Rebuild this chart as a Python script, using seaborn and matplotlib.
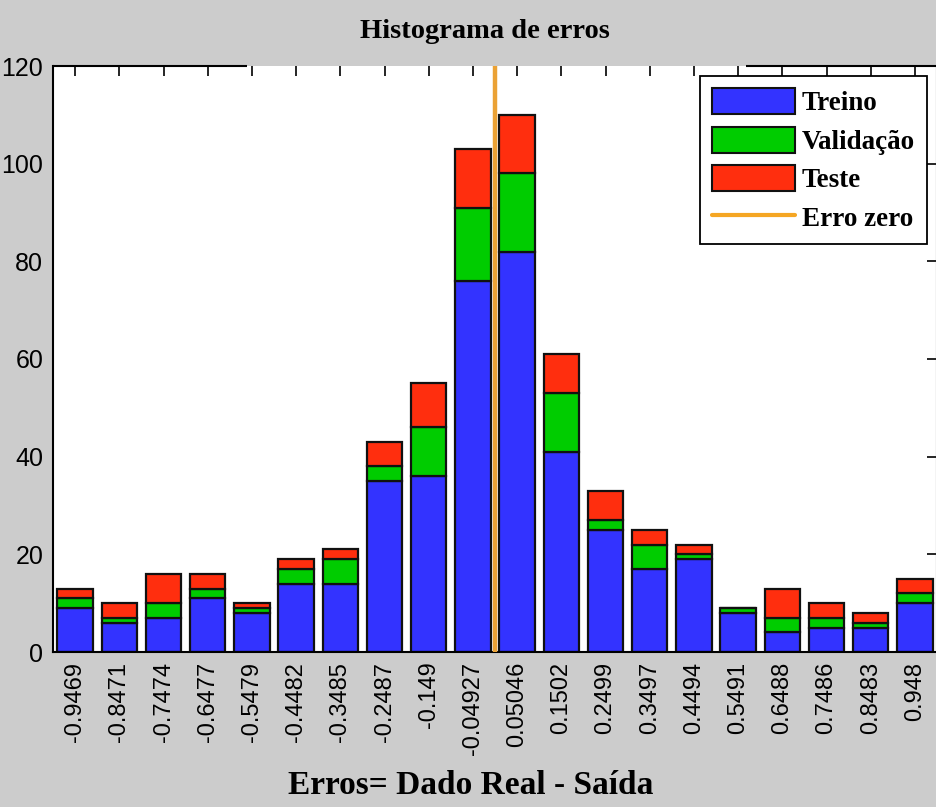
import numpy as np
import pandas as pd
import matplotlib
matplotlib.use("Agg")
import matplotlib.pyplot as plt
from matplotlib.patches import Patch
from matplotlib.lines import Line2D
import seaborn as sns

# Error-bin centres (tick labels) and instance counts per subset
bin_labels = ["-0.9469", "-0.8471", "-0.7474", "-0.6477", "-0.5479", "-0.4482",
              "-0.3485", "-0.2487", "-0.149", "-0.04927", "0.05046", "0.1502",
              "0.2499", "0.3497", "0.4494", "0.5491", "0.6488", "0.7486",
              "0.8483", "0.948"]
treino = [9, 6, 7, 11, 8, 14, 14, 35, 36, 76, 82, 41, 25, 17, 19, 8, 4, 5, 5, 10]
validacao = [2, 1, 3, 2, 1, 3, 5, 3, 10, 15, 16, 12, 2, 5, 1, 1, 3, 2, 1, 2]
teste = [2, 3, 6, 3, 1, 2, 2, 5, 9, 12, 12, 8, 6, 3, 2, 0, 6, 3, 2, 3]
y_ticks = [0, 20, 40, 60, 80, 100, 120]

centers = np.array([float(s) for s in bin_labels])
half_w = (centers[-1] - centers[0]) / (len(centers) - 1) / 2
lo, hi = centers[0] - half_w, centers[-1] + half_w

df = pd.concat([
    pd.DataFrame({"erro": centers, "n": treino, "conjunto": "Treino"}),
    pd.DataFrame({"erro": centers, "n": validacao, "conjunto": "Validação"}),
    pd.DataFrame({"erro": centers, "n": teste, "conjunto": "Teste"}),
], ignore_index=True)

palette = {"Treino": "#3333ff", "Validação": "#00cc00", "Teste": "#ff2e0e"}
zero_color = "#eba235"
bg = "#cccccc"

sns.set_style("white")
plt.rcParams["font.family"] = ["Liberation Sans", "DejaVu Sans"]
plt.rcParams["text.color"] = "black"

fig = plt.figure(figsize=(9.36, 8.07), dpi=100, facecolor=bg)
ax = fig.add_axes([53 / 936, 1 - 652 / 807, 884 / 936, 586 / 807])
ax.set_facecolor("white")

sns.histplot(data=df, x="erro", weights="n", hue="conjunto",
             hue_order=["Teste", "Validação", "Treino"], palette=palette,
             bins=len(centers), binrange=(lo, hi), multiple="stack",
             shrink=0.8, alpha=1, edgecolor="#111111", linewidth=1.6,
             legend=False, ax=ax)

ax.axvline(0, color=zero_color, lw=3.2, zorder=3)

ax.set_xlim(lo, hi)
ax.set_ylim(0, 120)
ax.set_xticks(centers)
ax.set_xticklabels(bin_labels, rotation=90, fontsize=17)
ax.set_yticks(y_ticks)
ax.set_yticklabels([str(v) for v in y_ticks], fontsize=18)
ax.set_xlabel("")
ax.set_ylabel("")
ax.tick_params(direction="in", length=7, width=1.2, top=True, right=True,
               colors="black", pad=7)

for side in ("left", "bottom", "right"):
    ax.spines[side].set_color("black")
    ax.spines[side].set_linewidth(1.5)
ax.spines["top"].set_visible(False)
for x0, x1 in ((0.0, 0.22), (0.784, 1.0)):
    ax.plot([x0, x1], [1, 1], transform=ax.transAxes, color="black",
            lw=1.5, clip_on=False, solid_capstyle="butt")

serif = ["Liberation Serif", "DejaVu Serif"]
fig.text(485 / 936, 1 - 31 / 807, "Histograma de erros", family=serif,
         weight="bold", fontsize=20.5, ha="center", va="center", color="black")
fig.text(471 / 936, 1 - 786 / 807, "Erros= Dado Real - Saída", family=serif,
         weight="bold", fontsize=24, ha="center", va="center", color="black")

handles = [Patch(facecolor=palette["Treino"], edgecolor="#111111", lw=1.5),
           Patch(facecolor=palette["Validação"], edgecolor="#111111", lw=1.5),
           Patch(facecolor=palette["Teste"], edgecolor="#111111", lw=1.5),
           Line2D([0], [0], color="#f5a623", lw=3)]
leg = ax.legend(handles, ["Treino", "Validação", "Teste", "Erro zero"],
                loc="upper right", bbox_to_anchor=(927 / 936, 1 - 76 / 807),
                bbox_transform=fig.transFigure, borderaxespad=0,
                prop={"family": serif, "weight": "bold", "size": 19.5},
                handlelength=3.05, handleheight=1.1, labelspacing=0.38,
                handletextpad=0.25, borderpad=0.45, fancybox=False,
                framealpha=1, edgecolor="black")
leg.get_frame().set_linewidth(1.3)
for t in leg.get_texts():
    t.set_color("black")

fig.savefig("out.png", dpi=100, facecolor=bg)
